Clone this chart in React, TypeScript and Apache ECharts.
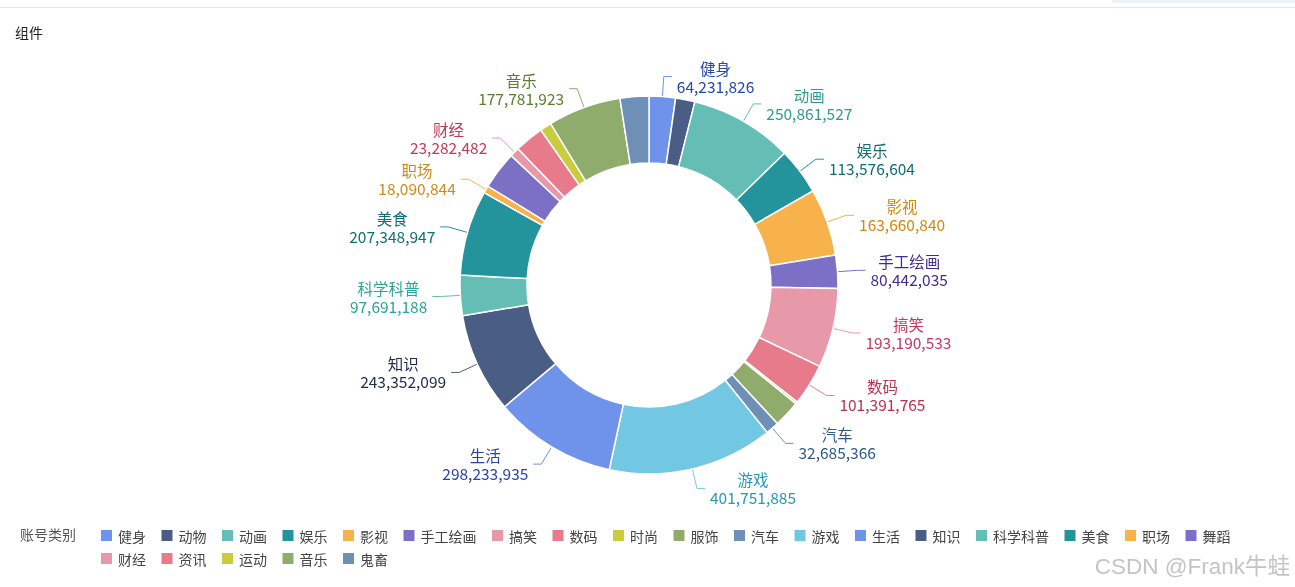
import React, { useEffect, useRef } from 'react';
import * as echarts from 'echarts';

const categories = [
  '健身', '动物', '动画', '娱乐', '影视', '手工绘画', '搞笑', '数码', '时尚', '服饰', '汽车', '游戏',
  '生活', '知识', '科学科普', '美食', '职场', '舞蹈', '财经', '资讯', '运动', '音乐', '鬼畜',
];

const values = [
  64231826, 47000000, 250861527, 113576604, 163660840, 80442035, 193190533, 101391765, 5000000,
  65000000, 32685366, 401751885, 298233935, 243352099, 97691188, 207348947, 18090844, 92000000,
  23282482, 71000000, 28000000, 177781923, 70000000,
];

const palette = [
  '#6f93ea', '#4a5d85', '#64beb5', '#23939c', '#f8b24b', '#7b6fc6',
  '#e799aa', '#e77b8b', '#c9cd3b', '#8fac6c', '#6e90b6', '#72c8e3',
];

const labelColors: Record<string, string> = {
  '健身': '#2248a8',
  '动画': '#2a9d90',
  '娱乐': '#0e6e73',
  '影视': '#d4870e',
  '手工绘画': '#3d2f8f',
  '搞笑': '#c23a5e',
  '数码': '#b8324d',
  '汽车': '#2f5b8a',
  '游戏': '#2399b8',
  '生活': '#2545aa',
  '知识': '#1e2b4a',
  '科学科普': '#2aa597',
  '美食': '#0e7075',
  '职场': '#d08a1a',
  '财经': '#c23a5a',
  '音乐': '#5a7d2e',
};

const legendRow1 = categories.slice(0, 18);
const legendRow2 = categories.slice(18);

export default function App() {
  const ref = useRef<HTMLDivElement>(null);
  useEffect(() => {
    const chart = echarts.init(ref.current!, null, { renderer: 'svg' });
    const font = '"Noto Sans CJK SC", "Microsoft YaHei", sans-serif';
    const data = categories.map((name, i) => {
      const lc = labelColors[name];
      return {
        name,
        value: values[i],
        label: lc ? { show: true, color: lc } : { show: false },
        labelLine: { show: !!lc },
      };
    });
    const legendBase = {
      left: 99,
      padding: 0,
      itemWidth: 13,
      itemHeight: 13,
      itemGap: 13.5,
      icon: 'rect',
      textStyle: { fontSize: 14, color: '#444', fontFamily: font },
    };
    chart.setOption({
      animation: false,
      color: palette,
      textStyle: { fontFamily: font },
      title: {
        text: '组件',
        left: 15,
        top: 25,
        padding: 0,
        textStyle: { fontSize: 14, fontWeight: 'normal', color: '#222', fontFamily: font },
      },
      legend: [
        { ...legendBase, data: legendRow1, top: 528 },
        { ...legendBase, data: legendRow2, top: 551 },
      ],
      graphic: [
        { type: 'line', shape: { x1: 0, y1: 7.5, x2: 1295, y2: 7.5 }, style: { stroke: '#e6e6e6', lineWidth: 1 } },
        { type: 'rect', shape: { x: 1112, y: 0, width: 183, height: 3 }, style: { fill: '#eef3fb' } },
        {
          type: 'text',
          left: 20,
          top: 527,
          style: { text: '账号类别', fontSize: 14, fill: '#555', fontFamily: font },
        },
        {
          type: 'text',
          right: 5,
          top: 555,
          style: {
            text: 'CSDN @Frank牛蛙',
            fontSize: 22.5,
            fill: '#c4c4c4',
            fontFamily: '"Liberation Sans", Arial, "Noto Sans CJK SC", sans-serif',
          },
        },
      ],
      series: [
        {
          type: 'pie',
          center: [649, 285],
          radius: [122, 189],
          startAngle: 90,
          clockwise: true,
          avoidLabelOverlap: false,
          itemStyle: { borderColor: '#fff', borderWidth: 1.5 },
          label: {
            position: 'outside',
            fontSize: 15.5,
            lineHeight: 18,
            formatter: (p: any) => `{a|${p.name}}\n{a|${Number(p.value).toLocaleString('en-US')}}`,
            rich: { a: { align: 'center', fontSize: 15.5, lineHeight: 18 } },
          },
          labelLine: { length: 20, length2: 8, lineStyle: { width: 1 } },
          emphasis: { disabled: true },
          data,
        },
      ],
    });
    return () => chart.dispose();
  }, []);
  return <div ref={ref} style={{ position: 'fixed', left: 0, top: 0, width: 1295, height: 587 }} />;
}
